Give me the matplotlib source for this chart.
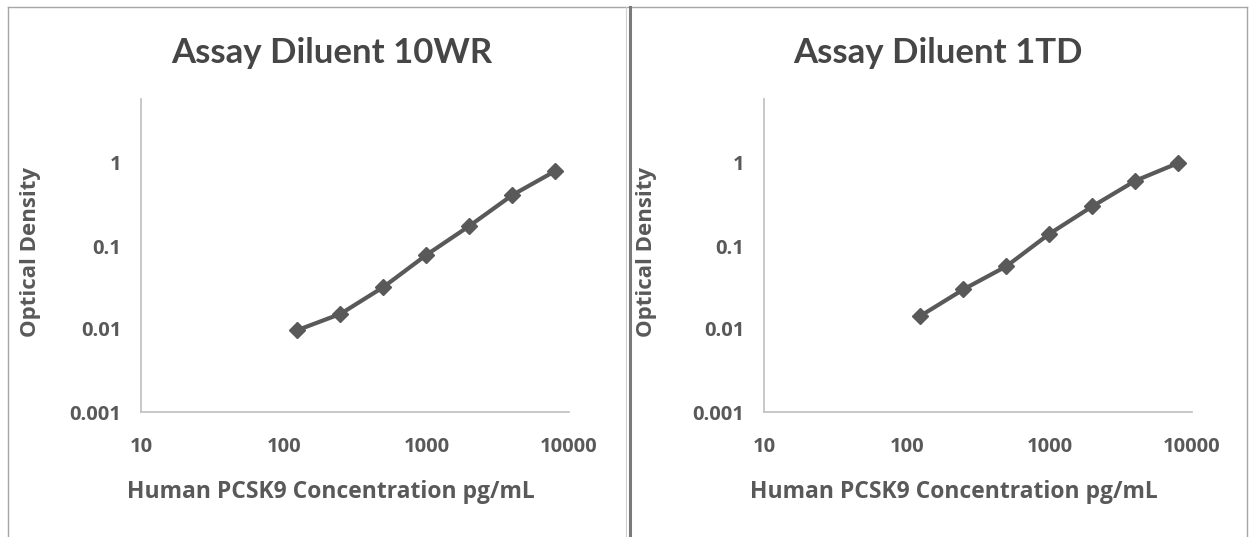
import matplotlib
matplotlib.use("Agg")
import matplotlib.pyplot as plt
from matplotlib.lines import Line2D

# ---- data ----
conc = [125, 250, 500, 1000, 2000, 4000, 8000]
od_10wr = [0.0097, 0.0152, 0.032, 0.078, 0.174, 0.41, 0.80]
od_1td = [0.0144, 0.030, 0.057, 0.140, 0.30, 0.61, 1.0]
titles = ["Assay Diluent 10WR", "Assay Diluent 1TD"]
x_ticks = [10, 100, 1000, 10000]
x_ticklabels = ["10", "100", "1000", "10000"]
y_ticks = [0.001, 0.01, 0.1, 1]
y_ticklabels = ["0.001", "0.01", "0.1", "1"]
xlabel = "Human PCSK9 Concentration pg/mL"
ylabel = "Optical Density"

W, H = 1250, 537
fig = plt.figure(figsize=(W / 100, H / 100), dpi=100)
plt.rcParams['font.family'] = ['Open Sans', 'DejaVu Sans']

text_col = "#595959"
title_col = "#464646"
line_col = "#595959"
axis_col = "#c4c4c4"

def fx(px):
    return px / W

def fy(py):
    return 1 - py / H

panels = [
    dict(ax_left=141, title_x=332, xl_x=331, yl_x=31, y=od_10wr, title=titles[0]),
    dict(ax_left=764, title_x=938, xl_x=954, yl_x=647, y=od_1td, title=titles[1]),
]
ax_w = 428
ax_top, ax_bot = 99, 412

for p in panels:
    ax = fig.add_axes([fx(p["ax_left"]), fy(ax_bot), ax_w / W, (ax_bot - ax_top) / H])
    ax.set_xscale("log")
    ax.set_yscale("log")
    ax.set_xlim(10, 10000)
    ax.set_ylim(0.001, 10 ** ((ax_bot - ax_top) / 83.0 - 3))
    ax.plot(conc, p["y"], color=line_col, lw=3.0, marker="D", markersize=8,
            markerfacecolor=line_col, markeredgecolor=line_col, solid_capstyle="round")
    ax.set_xticks(x_ticks)
    ax.set_xticklabels(x_ticklabels)
    ax.set_yticks(y_ticks)
    ax.set_yticklabels(y_ticklabels)
    ax.minorticks_off()
    ax.tick_params(axis="both", length=0, colors=text_col, labelsize=14.5)
    ax.tick_params(axis="x", pad=18)
    ax.tick_params(axis="y", pad=14)
    for lab in ax.get_xticklabels() + ax.get_yticklabels():
        lab.set_fontweight("bold")
        lab.set_color(text_col)
    for s in ["top", "right"]:
        ax.spines[s].set_visible(False)
    for s in ["left", "bottom"]:
        ax.spines[s].set_color(axis_col)
        ax.spines[s].set_linewidth(1.3)
    ax.set_facecolor("none")

    fig.text(fx(p["title_x"]), fy(63), p["title"], ha="center", va="baseline",
             fontsize=25, fontweight="bold", color=title_col, family=["Lato", "DejaVu Sans"])
    fig.text(fx(p["xl_x"]), fy(492), xlabel, ha="center", va="center",
             fontsize=16.5, fontweight="bold", color=text_col)
    fig.text(fx(p["yl_x"]), fy(252), ylabel, ha="center", va="center", rotation=90,
             fontsize=16, fontweight="bold", color=text_col)

# frame lines
border = "#a6a6a6"
fig.add_artist(Line2D([fx(8), fx(1247)], [fy(7), fy(7)], color=border, lw=1.0))
fig.add_artist(Line2D([fx(8), fx(8)], [fy(7), fy(537)], color=border, lw=1.0))
fig.add_artist(Line2D([fx(1247), fx(1247)], [fy(7), fy(537)], color=border, lw=1.0))
fig.add_artist(Line2D([fx(626), fx(626)], [fy(7), fy(537)], color="#d0d0d0", lw=0.8))
fig.add_artist(Line2D([fx(630), fx(630)], [fy(7), fy(537)], color="#7a7a7a", lw=2.2))

fig.savefig("out.png", dpi=100)
